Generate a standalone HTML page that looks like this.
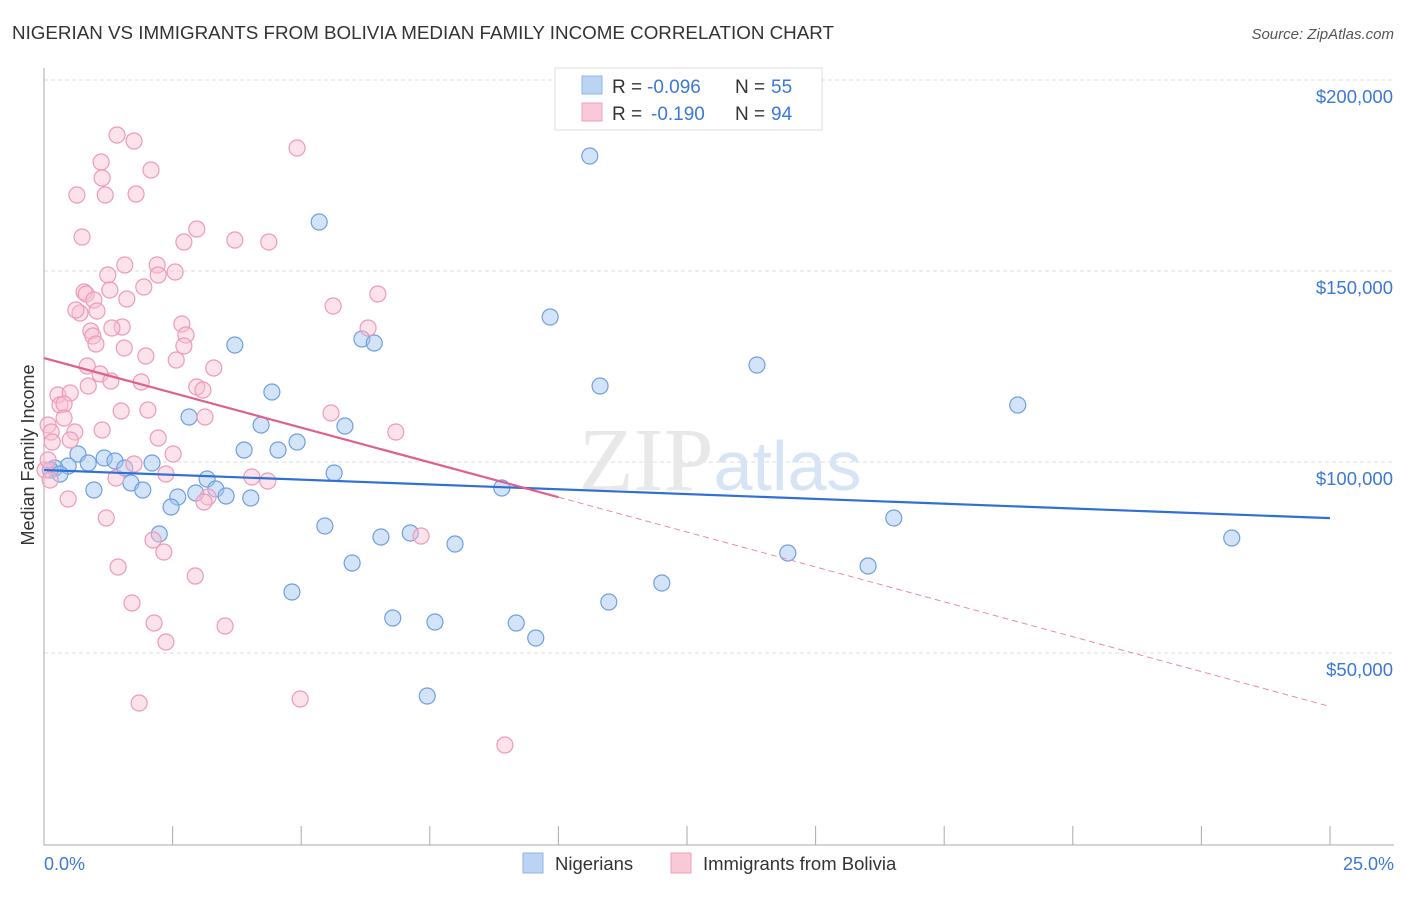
<!DOCTYPE html>
<html><head><meta charset="utf-8"><style>
body{margin:0;background:#fff;font-family:"Liberation Sans",sans-serif;}
</style></head><body>
<svg width="1406" height="892" xmlns="http://www.w3.org/2000/svg">
<text x="12" y="39" font-size="18.8" fill="#333">NIGERIAN VS IMMIGRANTS FROM BOLIVIA MEDIAN FAMILY INCOME CORRELATION CHART</text>
<text x="1394" y="39" font-size="15" fill="#555" font-style="italic" text-anchor="end">Source: ZipAtlas.com</text>
<g id="grid"></g>
<text x="720" y="490" font-size="90" fill="#e8e8e8" text-anchor="middle" font-family="Liberation Serif,serif">ZIP<tspan fill="#d6e4f5" font-family="Liberation Sans,sans-serif" font-size="70">atlas</tspan></text>
<g id="marks"></g>
<text x="34" y="455" font-size="18" fill="#333" text-anchor="middle" transform="rotate(-90 34 455)">Median Family Income</text>
<text x="44" y="870" font-size="18" fill="#3b78d8">0.0%</text>
<text x="1394" y="870" font-size="18" fill="#3b78d8" text-anchor="end">25.0%</text>
<g>
<rect x="555" y="68" width="267" height="62" fill="#fff" stroke="#ddd"/>
<rect x="582" y="76" width="20" height="18" fill="#bcd4f4" stroke="#8fb4e8"/>
<rect x="582" y="103" width="20" height="18" fill="#f9c9d8" stroke="#f0a0ba"/>
<text x="612" y="93" font-size="19" fill="#333">R =</text>
<text x="647" y="93" font-size="19" fill="#3b78d8">-0.096</text>
<text x="735" y="93" font-size="19" fill="#333">N =</text>
<text x="771" y="93" font-size="19" fill="#3b78d8">55</text>
<text x="612" y="120" font-size="19" fill="#333">R =</text>
<text x="651" y="120" font-size="19" fill="#3b78d8">-0.190</text>
<text x="735" y="120" font-size="19" fill="#333">N =</text>
<text x="771" y="120" font-size="19" fill="#3b78d8">94</text>
</g>
<g>
<rect x="523" y="853" width="20" height="20" fill="#bcd4f4" stroke="#8fb4e8"/>
<text x="555" y="870" font-size="18.5" fill="#333">Nigerians</text>
<rect x="671" y="853" width="20" height="20" fill="#f9c9d8" stroke="#f0a0ba"/>
<text x="703" y="870" font-size="18.5" fill="#333">Immigrants from Bolivia</text>
</g>
</svg>
<script>
const yTicks=[200000,150000,100000,50000];
const yTickLabels=["$200,000","$150,000","$100,000","$50,000"];
const blueX=[590,319,550,235,362,374,757,600,1018,272,189,261,345,297,244,278,78,104,115,88,152,125,68,55,50,60,334,207,131,216,143,94,178,196,226,251,171,502,894,325,159,381,410,455,1232,788,352,868,662,292,609,393,435,516,536,427].map(p=>+((p-44)/51.44).toFixed(2));
const blueY=[156,222,317,345,339,343,365,386,405,392,417,425,426,442,450,450,454,458,461,463,463,468,466,468,470,474,473,479,483,489,490,490,497,493,496,498,507,488,518,526,534,537,533,544,538,553,563,566,583,592,602,618,622,623,638,696].map(p=>Math.round(200000-(p-80)*50000/191));
const pinkX=[117,134,297,101,151,102,77,105,136,197,82,235,269,184,125,157,108,175,158,144,110,378,84,86,127,94,333,80,97,76,122,112,182,91,93,368,186,184,124,96,146,176,87,214,100,141,111,197,203,88,58,70,60,64,148,121,331,205,64,48,75,51,396,158,102,52,70,173,134,166,252,268,116,208,204,68,106,421,153,164,118,195,132,154,225,166,139,300,505,45,48,50].map(p=>+((p-44)/51.44).toFixed(2));
const pinkY=[135,141,148,162,170,178,195,195,194,229,237,240,242,242,265,265,275,272,275,287,290,294,292,294,299,300,306,313,311,310,327,328,324,331,336,328,335,346,348,344,356,360,366,368,374,382,381,387,390,386,395,393,405,404,410,411,413,417,418,425,432,432,432,438,430,442,440,454,464,474,477,481,478,497,502,499,518,536,540,552,567,576,603,623,626,642,703,699,745,470,460,480].map(p=>Math.round(200000-(p-80)*50000/191));
const blueTrend=[[0,97900],[25,85300]];
const pinkTrend=[[0,127200],[10,90800],[25,36000]];
const NS="http://www.w3.org/2000/svg";
const X=v=>44+v*(1286/25), Y=v=>80+(200000-v)*191/50000;
const grid=document.getElementById('grid'), marks=document.getElementById('marks');
function mk(tag,attrs,parent){const e=document.createElementNS(NS,tag);for(const k in attrs)e.setAttribute(k,attrs[k]);parent.appendChild(e);return e;}
yTicks.forEach((t,i)=>{
 const l=mk('line',{x1:44,x2:1394,y1:Y(t),y2:Y(t),stroke:'#ddd','stroke-dasharray':'4 3'},grid);
 
 
 const tx=mk('text',{x:1393,y:Y(t)+23,'font-size':18.5,fill:'#3b78d8','text-anchor':'end'},grid);
 tx.textContent=yTickLabels[i];
 
 
});
const ax=mk('path',{d:'M44 68V845H1394',fill:'none',stroke:'#aaa'},grid);


for(let i=1;i<=10;i++){const t=mk('line',{x1:X(i*2.5),x2:X(i*2.5),y1:826,y2:845,stroke:'#aaa'},grid);
 
 }
blueX.forEach((x,i)=>{const c=mk('circle',{cx:X(x),cy:Y(blueY[i]),r:8,fill:'rgba(160,195,240,0.45)',stroke:'#6f9fe0','stroke-width':1.2},marks);
 
 });
pinkX.forEach((x,i)=>{const c=mk('circle',{cx:X(x),cy:Y(pinkY[i]),r:8,fill:'rgba(248,190,210,0.45)',stroke:'#ee9ab6','stroke-width':1.2},marks);
 
 });
const bl=mk('line',{x1:X(blueTrend[0][0]),y1:Y(blueTrend[0][1]),x2:X(blueTrend[1][0]),y2:Y(blueTrend[1][1]),stroke:'#2f6fd6','stroke-width':2.2},marks);


const pl=mk('line',{x1:X(pinkTrend[0][0]),y1:Y(pinkTrend[0][1]),x2:X(pinkTrend[1][0]),y2:Y(pinkTrend[1][1]),stroke:'#e0608c','stroke-width':2.2},marks);


const pd=mk('line',{x1:X(pinkTrend[1][0]),y1:Y(pinkTrend[1][1]),x2:X(pinkTrend[2][0]),y2:Y(pinkTrend[2][1]),stroke:'#e88aaa','stroke-width':1,'stroke-dasharray':'6 4'},marks);


</script>
</body></html>
